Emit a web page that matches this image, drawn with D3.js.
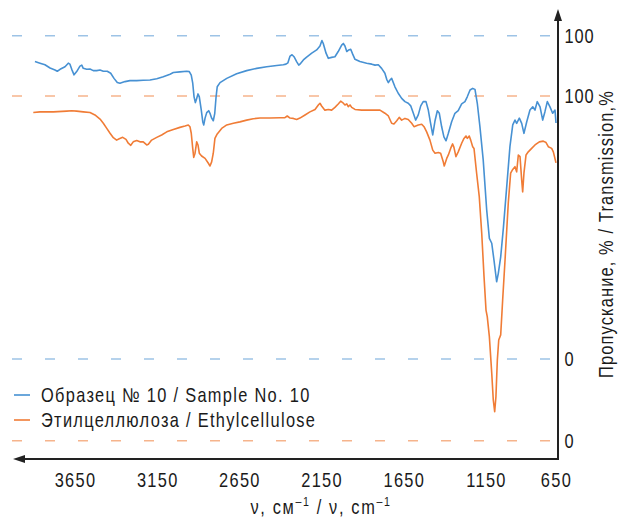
<!DOCTYPE html>
<html>
<head>
<meta charset="utf-8">
<script src="https://cdn.jsdelivr.net/npm/d3@7"></script>
<style>
	body { margin: 0; background: #fff; }
	text { font-family: "Liberation Sans", Arial, sans-serif; font-size: 20px; fill: #1a1a1a; letter-spacing: 1.6px; }
</style>
</head>
<body>
<svg id="chart" width="620" height="519"></svg>
<script>

// wavenumber ticks, cm-1
var tickValues = [3650, 3150, 2650, 2150, 1650, 1150, 650];

// Sample No. 10
var sampleWn = [3894,3863,3833,3802,3772,3758,3741,3711,3691,3681,
	3670,3656,3640,3620,3609,3600,3579,3559,3539,3518,
	3498,3478,3454,3433,3413,3393,3377,3346,3316,3275,
	3235,3194,3153,3113,3072,3052,3012,2971,2955,2943,
	2934,2926,2918,2910,2902,2894,2882,2873,2867,2859,
	2849,2837,2829,2819,2809,2800,2792,2785,2768,2727,
	2667,2606,2545,2484,2423,2383,2367,2355,2342,2330,
	2318,2302,2289,2282,2261,2241,2210,2180,2160,2148,
	2140,2123,2109,2089,2069,2049,2028,2018,2008,1997,
	1985,1973,1961,1947,1917,1876,1845,1825,1805,1785,
	1765,1754,1744,1734,1724,1704,1684,1663,1643,1623,
	1608,1592,1578,1562,1547,1532,1515,1501,1487,1474,
	1460,1446,1434,1420,1406,1393,1379,1359,1339,1319,
	1298,1278,1264,1247,1231,1217,1203,1187,1167,1145,
	1126,1109,1093,1074,1062,1045,1026,1002,979,959,
	943,931,912,895,879,859,836,816,800,784,
	764,745,729,712,693,674,657,650];
var sampleT = [92.0,91.5,91.0,90.0,89.4,89.0,89.6,90.4,91.5,91.2,
	89.6,87.9,88.9,90.6,90.9,89.9,89.6,89.7,89.2,89.2,
	89.4,89.0,89.0,88.4,86.8,85.5,85.3,85.8,86.1,86.1,
	86.2,86.3,86.7,87.3,88.1,88.6,88.8,89.0,88.9,87.8,
	85.3,81.1,79.3,80.6,82.0,81.1,77.0,73.4,72.4,74.5,
	76.2,76.8,76.0,74.5,73.7,76.0,81.1,84.2,85.5,86.8,
	88.2,89.2,89.9,90.4,90.8,91.0,91.2,91.6,93.7,94.1,
	93.5,92.0,90.9,91.2,92.5,93.4,94.6,95.6,96.8,98.5,
	97.6,94.6,93.0,93.3,93.5,95.1,97.1,97.6,96.8,95.1,
	95.6,95.8,94.3,92.7,92.0,91.5,91.2,90.9,91.0,89.9,
	88.4,86.5,85.5,86.3,86.8,84.2,82.2,80.6,79.6,79.1,
	78.3,76.0,73.9,75.5,78.3,79.6,79.6,77.0,72.9,69.3,
	73.7,76.8,76.0,71.9,68.7,67.5,69.8,73.4,76.0,76.8,
	78.9,79.6,81.1,83.2,83.7,83.4,79.1,71.9,61.6,46.1,
	37.3,35.8,30.6,23.9,26.5,31.6,40.5,53.3,65.7,72.4,
	73.9,72.9,74.5,72.9,69.8,73.4,77.0,78.0,77.0,79.6,
	78.0,73.9,76.5,79.6,78.0,76.0,77.0,73.0];

// Ethylcellulose
var ethylWn = [3904,3863,3782,3701,3670,3640,3600,3559,3529,3498,
	3478,3457,3437,3417,3397,3381,3360,3340,3326,3311,
	3296,3275,3255,3235,3214,3204,3184,3153,3123,3092,
	3052,3012,2981,2961,2951,2943,2934,2928,2920,2910,
	2902,2894,2880,2859,2839,2829,2819,2809,2799,2785,
	2758,2727,2687,2647,2606,2566,2525,2464,2403,2373,
	2359,2342,2322,2302,2282,2251,2221,2190,2170,2160,
	2150,2130,2109,2089,2069,2049,2034,2022,2008,1997,
	1988,1977,1967,1947,1906,1866,1825,1795,1765,1744,
	1724,1710,1693,1678,1663,1643,1623,1602,1588,1562,
	1541,1527,1511,1491,1474,1460,1440,1426,1410,1404,
	1389,1379,1365,1353,1345,1333,1319,1298,1284,1272,
	1264,1252,1243,1231,1223,1207,1191,1176,1162,1150,
	1141,1126,1109,1098,1088,1079,1069,1059,1045,1031,
	1014,991,974,959,943,931,919,907,895,888,
	879,864,848,824,800,769,741,721,705,681,
	669,650];
var ethylT = [95.2,95.4,95.4,95.6,95.7,95.6,95.4,95.2,94.5,93.3,
	92.1,90.6,89.2,87.9,87.2,87.6,88.0,87.4,86.3,85.7,
	86.7,87.1,86.7,86.7,85.8,86.0,87.2,88.0,88.7,89.6,
	90.3,90.9,91.3,91.6,91.1,89.2,84.8,82.2,83.4,86.7,
	85.8,83.4,82.6,81.9,80.5,79.7,80.9,83.4,87.7,89.0,
	90.6,91.6,92.1,92.5,93.0,93.4,93.6,93.6,93.7,93.7,
	94.2,93.6,93.5,93.2,93.6,94.5,95.4,96.1,97.4,97.9,
	97.1,95.9,96.1,95.9,96.7,97.7,98.5,98.1,97.4,97.7,
	96.9,97.4,96.7,96.1,95.9,95.9,95.9,95.9,95.0,94.2,
	92.1,91.9,92.8,93.8,93.0,93.5,93.2,92.1,91.1,91.6,
	91.8,91.1,89.6,87.2,84.3,83.4,83.6,83.4,80.9,79.7,
	81.9,82.9,84.8,86.1,85.1,82.4,83.8,86.3,87.7,88.4,
	87.7,88.4,87.2,85.3,84.8,77.6,70.8,60.2,47.6,37.9,
	36.0,30.2,19.6,11.8,8.4,12.8,23.4,29.2,30.7,40.8,
	52.4,68.9,77.6,78.7,79.5,78.0,82.9,82.4,75.6,72.2,
	77.6,82.9,83.8,84.8,85.8,86.7,86.9,86.5,85.3,84.8,
	83.8,80.6];

var seriesNames = ["Образец № 10 / Sample No. 10", "Этилцеллюлоза / Ethylcellulose"];
var yTicks = [0, 100];

var blue = "#4791d3", orange = "#f07c36",
	blueLight = "#9dc3e6", orangeLight = "#f6b48c";

// no narrow font installed, so squeeze Liberation Sans sideways
var squeeze = "scale(0.82,1)";

var svg = d3.select("#chart");

// x runs right to left; the last 500 cm-1 are squeezed as in the original
var x = d3.scaleLinear()
	.domain([4000, 1150, 650])
	.range([17.5, 486, 556]);

// each spectrum has its own offset transmission scale
var yBlue = d3.scaleLinear().domain([0, 100]).range([359, 35.7]);
var yOrange = d3.scaleLinear().domain([0, 100]).range([440.7, 96]);

var axisX = 558, axisY = 459;

// dashed 0 / 100 guides
function guides(scale, color) {
	svg.append("g")
		.selectAll("line")
		.data(yTicks)
		.enter()
		.append("line")
		.attr("x1", 12)
		.attr("x2", axisX - 1)
		.attr("y1", function(d) { return scale(d); })
		.attr("y2", function(d) { return scale(d); })
		.attr("stroke", color)
		.attr("stroke-width", 1.5)
		.attr("stroke-dasharray", "10,23");
}
guides(yBlue, blueLight);
guides(yOrange, orangeLight);

function spectrum(wn, t, scale, color) {
	var pts = wn.map(function(d, i) { return [d, t[i]]; });
	var line = d3.line()
		.x(function(d) { return x(d[0]); })
		.y(function(d) { return scale(d[1]); });
	svg.append("path")
		.datum(pts)
		.attr("d", line)
		.attr("fill", "none")
		.attr("stroke", color)
		.attr("stroke-width", 1.6)
		.attr("stroke-linejoin", "round");
}
spectrum(sampleWn, sampleT, yBlue, blue);
spectrum(ethylWn, ethylT, yOrange, orange);

// axes with arrows
svg.append("path")
	.attr("d", "M" + axisX + "," + 16 + "V" + axisY + "H" + 20)
	.attr("fill", "none")
	.attr("stroke", "#222")
	.attr("stroke-width", 2);
svg.append("path")
	.attr("d", "M" + axisX + ",9L" + (axisX - 4) + ",21L" + (axisX + 4) + ",21Z")
	.attr("fill", "#222");
svg.append("path")
	.attr("d", "M13," + axisY + "L25," + (axisY - 4) + "L25," + (axisY + 4) + "Z")
	.attr("fill", "#222");

var gx = svg.append("g")
	.attr("transform", "translate(0," + axisY + ")")
	.call(d3.axisBottom(x).tickValues(tickValues).tickSize(0).tickPadding(14).tickFormat(d3.format("d")));
gx.select(".domain").remove();
gx.selectAll("text")
	.attr("font-size", null).attr("font-family", null).attr("fill", "#1a1a1a")
	.attr("transform", squeeze);

[yBlue, yOrange].forEach(function(scale) {
	var g = svg.append("g")
		.attr("transform", "translate(" + axisX + ",0)")
		.call(d3.axisRight(scale).tickValues(yTicks).tickSize(0).tickPadding(8));
	g.select(".domain").remove();
	g.selectAll("text")
		.attr("font-size", null).attr("font-family", null).attr("fill", "#1a1a1a")
		.style("letter-spacing", "1px")
		.attr("transform", squeeze);
});

// legend
var legend = svg.append("g")
	.selectAll("g")
	.data(seriesNames)
	.enter()
	.append("g")
	.attr("transform", function(d, i) { return "translate(14," + (395 + i * 25) + ")"; });
legend.append("line")
	.attr("x1", 0).attr("x2", 16)
	.attr("stroke", function(d, i) { return i ? orange : blue; })
	.attr("stroke-width", 1.6);
legend.append("text")
	.attr("transform", "translate(27,0) " + squeeze)
	.attr("dy", "0.35em")
	.text(function(d) { return d; });

// axis titles
var xt = svg.append("text")
	.attr("transform", "translate(321,514) " + squeeze)
	.attr("text-anchor", "middle")
	.style("letter-spacing", "2px");
xt.append("tspan").text("ν, см");
xt.append("tspan").attr("dy", -8).style("font-size", "13px").text("–1");
xt.append("tspan").attr("dy", 8).text(" / ν, cm");
xt.append("tspan").attr("dy", -8).style("font-size", "13px").text("–1");

svg.append("text")
	.attr("transform", "translate(606,234) rotate(-90) " + squeeze)
	.attr("text-anchor", "middle")
	.attr("dy", "0.35em")
	.style("letter-spacing", "1.4px")
	.text("Пропускание, % / Transmission,%");

</script>
</body>
</html>
